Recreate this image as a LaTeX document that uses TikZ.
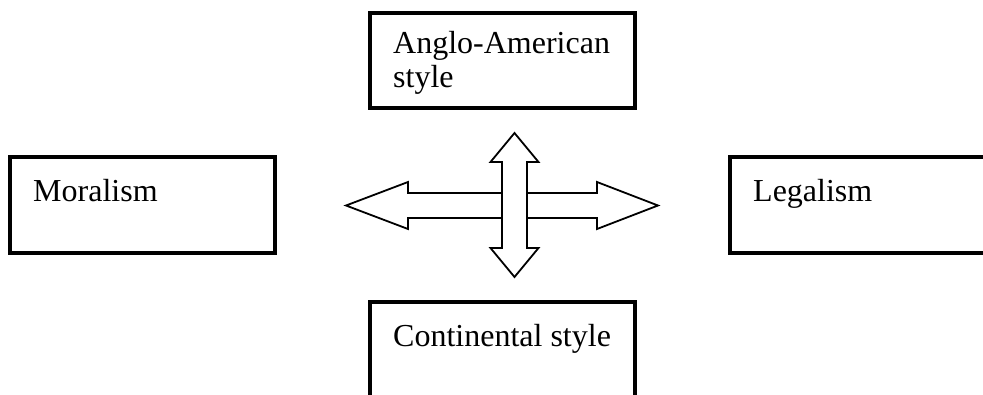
\documentclass[tikz,border=0pt]{standalone}
\usepackage{fontspec}
\setmainfont{Liberation Serif}
\begin{document}
\begin{tikzpicture}[x=1pt,y=-1pt,
  boxline/.style={draw=black,line width=3.6pt,line join=miter},
  lbl/.style={anchor=base west,inner sep=0pt,font=\fontsize{32}{34}\selectfont,align=left},
  blockarrow/.style={draw=black,fill=white,line width=1.8pt,line join=miter}]
\useasboundingbox (0,0) rectangle (983,394);
\clip (0,0) rectangle (983,394);
% boxes
\coordinate (mNW) at (10,157);   \coordinate (mSE) at (275,253);
\coordinate (lNW) at (730,157);  \coordinate (lSE) at (1000,253);
\coordinate (aNW) at (370,13);   \coordinate (aSE) at (635,108);
\coordinate (cNW) at (370,302);  \coordinate (cSE) at (635,410);
\draw[boxline] (mNW) rectangle (mSE);
\draw[boxline] (lNW) rectangle (lSE);
\draw[boxline] (aNW) rectangle (aSE);
\draw[boxline] (cNW) rectangle (cSE);
\node[lbl] (moral) at (33,201) {Moralism};
\node[lbl] (legal) at (753,201) {Legalism};
\node[lbl] (anglo) at (393,87) {Anglo-American\\style};
\node[lbl] (conti) at (393,346) {Continental style};
% horizontal double arrow
\draw[blockarrow] (346,205.5) -- (408,182) -- (408,193) -- (597,193) -- (597,182)
  -- (658,205.5) -- (597,229) -- (597,218) -- (408,218) -- (408,229) -- cycle;
% vertical double arrow (on top)
\draw[blockarrow] (514.5,133) -- (538.5,162) -- (527,162) -- (527,248) -- (538.5,248)
  -- (514.5,277) -- (490.5,248) -- (502,248) -- (502,162) -- (490.5,162) -- cycle;
\end{tikzpicture}
\end{document}
